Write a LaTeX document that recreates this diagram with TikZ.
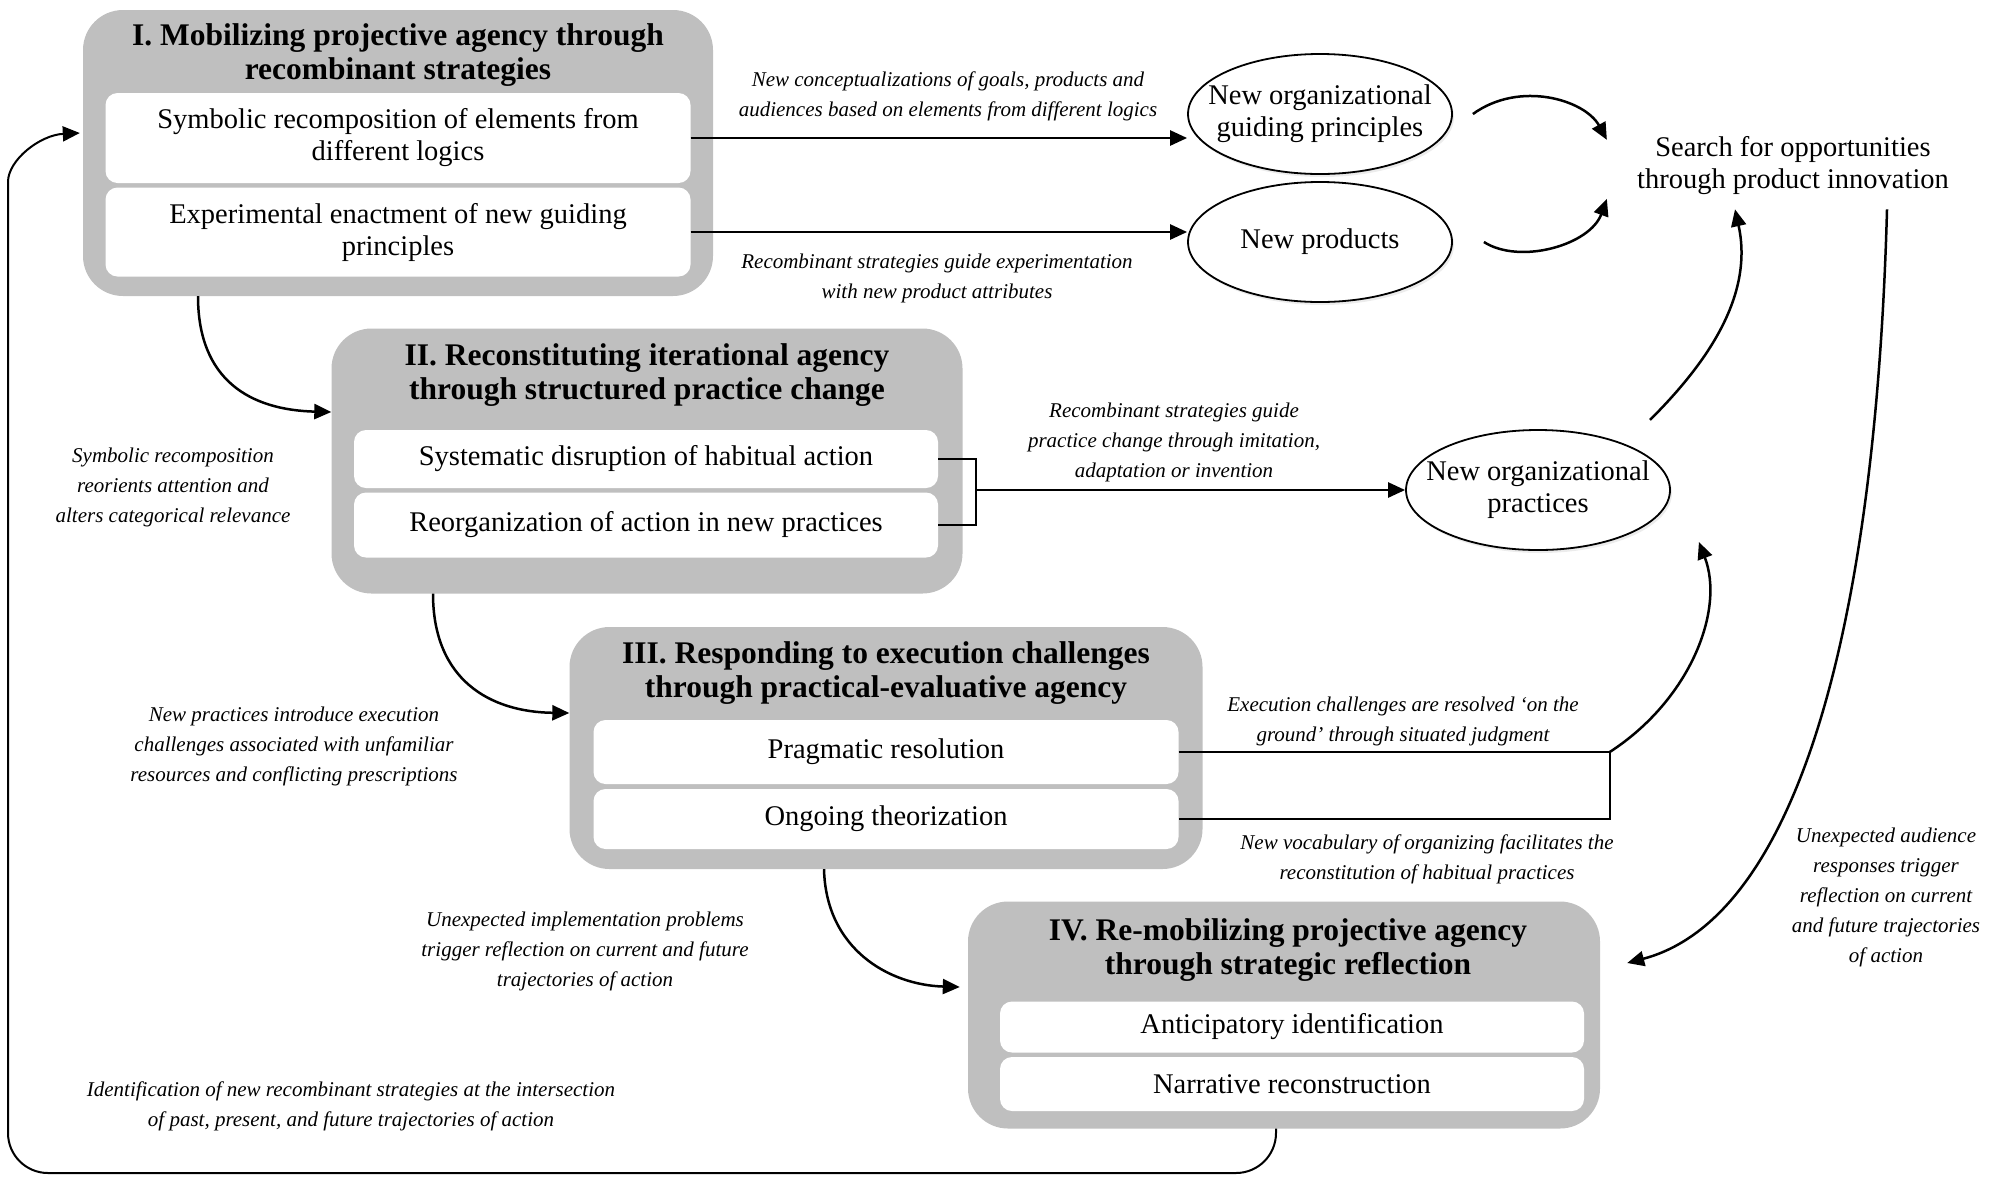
\documentclass[tikz,border=0pt]{standalone}
\usepackage{fontspec}
\setmainfont{Liberation Serif}
\usetikzlibrary{arrows.meta,shapes.geometric,shadows,positioning}
\definecolor{boxgray}{RGB}{191,191,191}
\tikzset{
  phase/.style={fill=boxgray, rounded corners=40pt, inner sep=0pt},
  phasetitle/.style={font=\fontsize{31.5}{34}\selectfont\bfseries, align=center, inner sep=0pt},
  sub/.style={fill=white, rounded corners=12pt, align=center, inner sep=0pt, font=\fontsize{28.5}{32}\selectfont},
  outcome/.style={ellipse, draw, fill=white, line width=1.8pt, minimum width=264pt, minimum height=120pt, inner xsep=-20pt, inner ysep=0pt, align=center, font=\fontsize{28.5}{32}\selectfont, drop shadow={opacity=0.15,shadow xshift=2pt,shadow yshift=-3pt}},
  note/.style={font=\fontsize{21}{30}\selectfont\itshape, align=center, inner sep=0pt},
  flow/.style={line width=2.5pt, -{Triangle[length=17pt,width=15pt]}},
  link/.style={line width=1.8pt},
}
\begin{document}
\begin{tikzpicture}[x=1pt,y=-1pt]
\useasboundingbox (0,0) rectangle (1993,1176);
% phase boxes
\node[phase, minimum width=630pt, minimum height=286pt] (p1) at (398,153) {};
\node[phasetitle] (t1) at (398,55) {I. Mobilizing projective agency through\\recombinant strategies};
\node[sub, minimum width=585pt, minimum height=90pt] (s11) at (398,138) {Symbolic recomposition of elements from\\different logics};
\node[sub, minimum width=585pt, minimum height=89pt] (s12) at (398,232) {Experimental enactment of new guiding\\principles};

\node[phase, minimum width=631pt, minimum height=265pt] (p2) at (647,461) {};
\node[phasetitle] (t2) at (647,375) {II. Reconstituting iterational agency\\through structured practice change};
\node[sub, minimum width=584pt, minimum height=58pt] (s21) at (646,459) {Systematic disruption of habitual action};
\node[sub, minimum width=584pt, minimum height=65pt] (s22) at (646,525) {Reorganization of action in new practices};

\node[phase, minimum width=633pt, minimum height=242pt] (p3) at (886,748) {};
\node[phasetitle] (t3) at (886,673) {III. Responding to execution challenges\\through practical-evaluative agency};
\node[sub, minimum width=585pt, minimum height=64pt] (s31) at (886,752) {Pragmatic resolution};
\node[sub, minimum width=585pt, minimum height=60pt] (s32) at (886,819) {Ongoing theorization};

\node[phase, minimum width=632pt, minimum height=227pt] (p4) at (1284,1015) {};
\node[phasetitle] (t4) at (1288,950) {IV. Re-mobilizing projective agency\\through strategic reflection};
\node[sub, minimum width=584pt, minimum height=51pt] (s41) at (1292,1027) {Anticipatory identification};
\node[sub, minimum width=584pt, minimum height=54pt] (s42) at (1292,1084) {Narrative reconstruction};

% outcomes
\node[outcome] (e1) at (1320,114) {New organizational\\guiding principles};
\node[outcome] (e2) at (1320,242) {New products};
\node[outcome] (pr) at (1538,490) {New organizational\\practices};
\node[align=center, font=\fontsize{28.5}{32}\selectfont, inner xsep=30pt, inner ysep=14pt] (srch) at (1793,166) {Search for opportunities\\through product innovation};

% connectors
\draw[flow] (s11.east) -- (s11.east -| e1.west);
\draw[flow] (s12.east) -- (s12.east -| e2.west);
\draw[flow] ([xshift=20pt]e1.east) .. controls (1520,80) and (1585,100) .. (srch.172);
\draw[flow] ([xshift=31pt]e2.east) .. controls (1520,265) and (1590,245) .. (srch.190);
\draw[flow] ([shift={(18pt,27pt)}]pr.north east) .. controls (1700,370) and (1755,300) .. ([xshift=-58pt]srch.south);
\draw[flow] ([xshift=94pt]srch.south) .. controls (1875,650) and (1790,920) .. ([shift={(27pt,52pt)}]p4.east);

\draw[link] (s21.east) -- ++(38,0) coordinate (j2) |- (s22.east);
\draw[flow] (j2 |- pr.west) -- (pr.west);
\draw[link] (s31.east) -- ++(431,0) coordinate (j3) |- (s32.east);
\draw[flow] (j3) .. controls (1690,700) and (1725,610) .. ([shift={(28pt,-52pt)}]pr.east);

\draw[flow] ([xshift=-200pt]p1.south) .. controls (198,380) and (250,410) .. ([yshift=49pt]p2.west);
\draw[flow] ([xshift=-214pt]p2.south) .. controls (433,680) and (490,712) .. ([yshift=35pt]p3.west);
\draw[flow] ([xshift=-62pt]p3.south) .. controls (826,950) and (890,985) .. ([shift={(-8pt,28pt)}]p4.west);

\coordinate (c1) at (8,1173);
\coordinate (c2) at (8,222);
\draw[flow, line width=2pt] ([xshift=-8pt]p4.south) [rounded corners=40pt] |- (c1) -- (c2) [sharp corners] .. controls (8,160) and (40,135) .. ([shift={(-3pt,20pt)}]p1.west);

% labels
\node[note] (n1) at (948,96) {New conceptualizations of goals, products and\\audiences based on elements from different logics};
\node[note] (n2) at (937,278) {Recombinant strategies guide experimentation\\with new product attributes};
\node[note] (n3) at (1174,442) {Recombinant strategies guide\\practice change through imitation,\\adaptation or invention};
\node[note] (n4) at (1403,721) {Execution challenges are resolved ‘on the\\ground’ through situated judgment};
\node[note] (n5) at (1427,859) {New vocabulary of organizing facilitates the\\reconstitution of habitual practices};
\node[note] (n6) at (173,487) {Symbolic recomposition\\reorients attention and\\alters categorical relevance};
\node[note] (n7) at (294,746) {New practices introduce execution\\challenges associated with unfamiliar\\resources and conflicting prescriptions};
\node[note] (n8) at (585,951) {Unexpected implementation problems\\trigger reflection on current and future\\trajectories of action};
\node[note] (n9) at (351,1106) {Identification of new recombinant strategies at the intersection\\of past, present, and future trajectories of action};
\node[note] (n10) at (1886,897) {Unexpected audience\\responses trigger\\reflection on current\\and future trajectories\\of action};
\end{tikzpicture}
\end{document}
